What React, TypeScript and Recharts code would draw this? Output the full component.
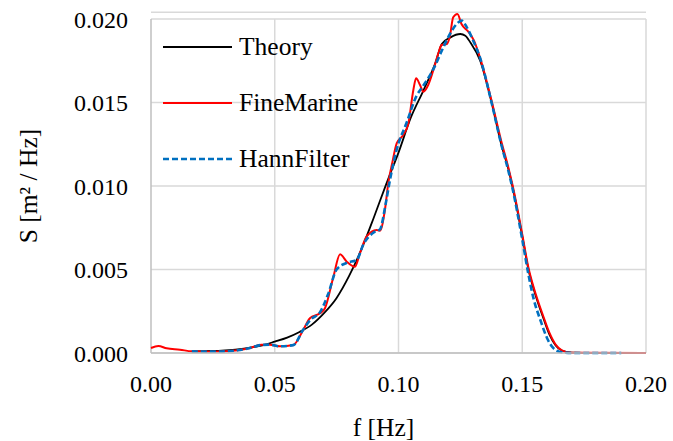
import { LineChart, Line, XAxis, YAxis, CartesianGrid, ReferenceLine, Legend } from "recharts";

const FONT = '"Liberation Serif", "Times New Roman", serif';

// frequency [Hz] / spectral density [m^2/Hz]
const seriesNames = ["Theory", "FineMarine", "HannFilter"];

const theoryF = [0.0165, 0.025, 0.03, 0.035, 0.04, 0.045, 0.05, 0.055, 0.06, 0.065, 0.07, 0.075, 0.08, 0.085, 0.09, 0.095, 0.1, 0.105, 0.11, 0.115, 0.1175, 0.121, 0.125, 0.127, 0.129, 0.133, 0.1376, 0.1415, 0.1444, 0.146, 0.15, 0.1525, 0.1555, 0.1585, 0.161, 0.1635, 0.166, 0.17, 0.18, 0.2];
const theoryS = [0.0001, 0.00012, 0.00016, 0.00022, 0.00032, 0.00046, 0.00068, 0.00092, 0.00126, 0.0017, 0.0024, 0.0033, 0.0046, 0.0062, 0.0081, 0.0101, 0.012, 0.0141, 0.0157, 0.0174, 0.0185, 0.0189, 0.0191, 0.019, 0.0186, 0.0175, 0.015, 0.0125, 0.011, 0.01, 0.007, 0.005, 0.0034, 0.0021, 0.0011, 0.00045, 0.00015, 0.00002, 0, 0];

const fineMarineF = [0, 0.003, 0.0063, 0.0117, 0.0165, 0.025, 0.03, 0.035, 0.04, 0.0445, 0.048, 0.0521, 0.0575, 0.0615, 0.0642, 0.0683, 0.0703, 0.0737, 0.0764, 0.0791, 0.0824, 0.0844, 0.0871, 0.0912, 0.0925, 0.0945, 0.0959, 0.0975, 0.0993, 0.1019, 0.104, 0.106, 0.1071, 0.1087, 0.11, 0.112, 0.1141, 0.1161, 0.1174, 0.1195, 0.1208, 0.1221, 0.1238, 0.1255, 0.1282, 0.1305, 0.1329, 0.1376, 0.1415, 0.1444, 0.146, 0.15, 0.1525, 0.1555, 0.1585, 0.161, 0.1635, 0.166, 0.17, 0.2];
const fineMarineS = [0.0003, 0.00042, 0.00028, 0.0002, 0.0001, 0.00008, 0.0001, 0.00016, 0.0003, 0.0005, 0.0005, 0.0004, 0.00048, 0.00138, 0.00208, 0.00238, 0.00268, 0.00457, 0.00591, 0.00547, 0.00517, 0.00597, 0.00697, 0.00737, 0.00732, 0.00856, 0.0102, 0.0114, 0.01256, 0.01305, 0.01375, 0.01575, 0.01645, 0.01605, 0.01565, 0.01605, 0.01695, 0.01795, 0.01844, 0.0185, 0.019, 0.0201, 0.0203, 0.01968, 0.01924, 0.0187, 0.0177, 0.0151, 0.0127, 0.0111, 0.0101, 0.0071, 0.0051, 0.0035, 0.0022, 0.0012, 0.0005, 0.00016, 0.00002, 0];

const hannF = [0.0165, 0.025, 0.03, 0.035, 0.04, 0.0445, 0.048, 0.0521, 0.0575, 0.0615, 0.0645, 0.0683, 0.0715, 0.075, 0.0791, 0.0831, 0.0858, 0.0898, 0.0925, 0.0949, 0.0966, 0.0993, 0.1033, 0.1073, 0.11, 0.1141, 0.1181, 0.1208, 0.1235, 0.1255, 0.1276, 0.1302, 0.1329, 0.1376, 0.1415, 0.1444, 0.146, 0.15, 0.1525, 0.1545, 0.1575, 0.16, 0.1625, 0.165, 0.17, 0.19];
const hannS = [0.0001, 0.00008, 0.0001, 0.00016, 0.0003, 0.00048, 0.0005, 0.0004, 0.00047, 0.0014, 0.002, 0.00245, 0.0035, 0.005, 0.0054, 0.00557, 0.0065, 0.0072, 0.0074, 0.009, 0.0104, 0.0122, 0.0138, 0.0154, 0.016, 0.017, 0.0183, 0.0191, 0.0197, 0.0199, 0.0195, 0.0187, 0.0177, 0.015, 0.0125, 0.0109, 0.0099, 0.0068, 0.0047, 0.0033, 0.0019, 0.0009, 0.0003, 0.00008, 0, 0];

const xTicks = [0, 0.05, 0.1, 0.15, 0.2];
const yTicks = [0, 0.005, 0.01, 0.015, 0.02];
const gridX = [0.05, 0.1, 0.15, 0.2];

const toPoints = (fs: number[], ss: number[]) => fs.map((f, i) => ({ f, s: ss[i] }));

const theory = toPoints(theoryF, theoryS);
const fineMarine = toPoints(fineMarineF, fineMarineS);
const hann = toPoints(hannF, hannS);

function ChartLegend({ payload }: any) {
  const items = [...(payload || [])].sort(
    (a: any, b: any) => seriesNames.indexOf(a.value) - seriesNames.indexOf(b.value)
  );
  return (
    <div style={{ fontFamily: FONT, fontSize: 25.5, color: "#000" }}>
      {items.map((entry: any) => (
        <div key={entry.value} style={{ display: "flex", alignItems: "center", height: 56 }}>
          <svg width={69} height={4} style={{ display: "block" }}>
            <line
              x1={0}
              y1={2}
              x2={69}
              y2={2}
              stroke={entry.color}
              strokeWidth={entry.payload?.strokeWidth ?? 2}
              strokeDasharray={entry.payload?.strokeDasharray}
            />
          </svg>
          <span style={{ marginLeft: 7, whiteSpace: "nowrap" }}>{entry.value}</span>
        </div>
      ))}
    </div>
  );
}

function YTitle({ viewBox }: any) {
  const cx = 28;
  const cy = viewBox.y + viewBox.height - 167;
  return (
    <text x={cx} y={cy} transform={`rotate(-90 ${cx} ${cy})`} textAnchor="middle" dominantBaseline="central" fontFamily={FONT} fontSize={25.5} fill="#000">
      S [m² / Hz]
    </text>
  );
}

function XTitle({ viewBox }: any) {
  const cx = viewBox.x + viewBox.width / 2 - 15;
  const cy = viewBox.y + 74;
  return (
    <text x={cx} y={cy} textAnchor="middle" dominantBaseline="central" fontFamily={FONT} fontSize={25.5} fill="#000">
      f [Hz]
    </text>
  );
}

export default function App() {
  const tick = { fontSize: 24, fill: "#000", fontFamily: FONT };
  return (
    <div style={{ position: "absolute", left: 0, top: 0, background: "#fff" }}>
      <LineChart width={673} height={441} margin={{ top: 12.3, right: 27, bottom: 0, left: 0 }}>
        <CartesianGrid vertical={false} stroke="#d9d9d9" strokeWidth={1.5} />
        {gridX.map((x) => (
          <ReferenceLine key={x} segment={[{ x, y: 0 }, { x, y: 0.02 }]} stroke="#d9d9d9" strokeWidth={1.5} />
        ))}
        <ReferenceLine segment={[{ x: 0, y: 0 }, { x: 0, y: 0.02 }]} stroke="#bfbfbf" strokeWidth={1.5} />
        <XAxis
          type="number"
          dataKey="f"
          domain={[0, 0.2]}
          ticks={xTicks}
          interval={0}
          tickFormatter={(v: number) => v.toFixed(2)}
          tick={tick}
          tickLine={false}
          tickSize={0}
          tickMargin={22}
          axisLine={{ stroke: "#bfbfbf", strokeWidth: 1.5 }}
          height={88}
          label={<XTitle />}
        />
        <YAxis
          type="number"
          dataKey="s"
          domain={[0, 0.0204]}
          ticks={yTicks}
          interval={0}
          tickFormatter={(v: number) => v.toFixed(3)}
          tick={tick}
          tickLine={false}
          tickSize={0}
          tickMargin={23}
          axisLine={false}
          width={151}
          label={<YTitle />}
        />
        <Legend
          layout="horizontal"
          align="center"
          verticalAlign="middle"
          wrapperStyle={{ left: 163, top: 19, width: 220, height: 168 }}
          content={<ChartLegend />}
        />
        <Line data={theory} dataKey="s" name="Theory" type="monotone" stroke="#000000" strokeWidth={1.8} dot={false} isAnimationActive={false} />
        <Line data={fineMarine} dataKey="s" name="FineMarine" type="monotone" stroke="#ff0000" strokeWidth={2} dot={false} isAnimationActive={false} />
        <Line data={hann} dataKey="s" name="HannFilter" type="monotone" stroke="#0070c0" strokeWidth={2.6} strokeDasharray="6 3" dot={false} isAnimationActive={false} />
      </LineChart>
    </div>
  );
}
